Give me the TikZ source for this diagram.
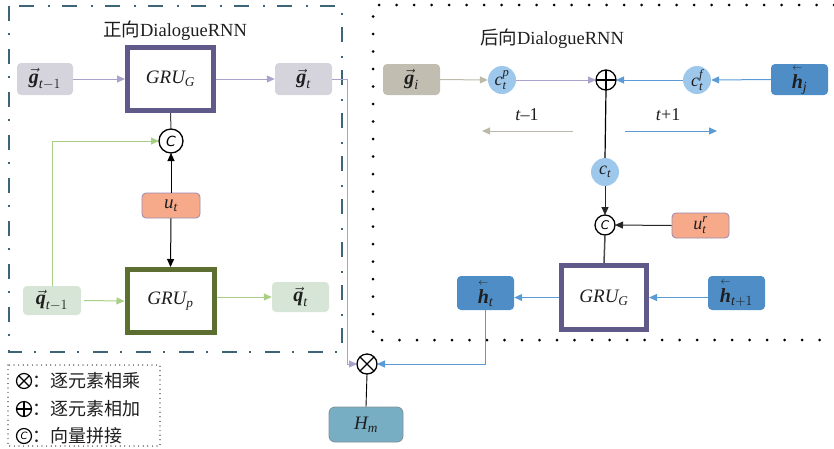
\RequirePackage{fix-cm}
\documentclass[tikz,border=0pt]{standalone}
\usepackage{amsmath}
\usepackage{fontspec}
\setmainfont{Liberation Serif}
\newfontfamily\cjk{Noto Sans CJK SC}
\newfontfamily\dejavu{DejaVu Sans}
\usetikzlibrary{arrows.meta,calc}
\newcommand{\myvec}[1]{\vec{\text{\bfseries\itshape #1}}}
\newcommand{\myla}[1]{\overset{\scriptscriptstyle\leftarrow}{\text{\bfseries\itshape #1}}}
\newcommand{\mi}[1]{\text{\itshape #1}}
\definecolor{gruG}{HTML}{5F5A8A}
\definecolor{gruP}{HTML}{5C6E30}
\definecolor{gfill}{HTML}{D5D4DD}
\definecolor{qfill}{HTML}{D6E5D5}
\definecolor{ufill}{HTML}{F6AA8A}
\definecolor{udraw}{HTML}{9A88B0}
\definecolor{gifill}{HTML}{C1BDB0}
\definecolor{cfill}{HTML}{9DC8EC}
\definecolor{hfill}{HTML}{4F8DC6}
\definecolor{hmfill}{HTML}{78AEC3}
\definecolor{hmdraw}{HTML}{7F8F99}
\definecolor{frameL}{HTML}{3E6478}
\definecolor{arrP}{HTML}{A9A3CB}
\definecolor{arrG}{HTML}{A9CF86}
\definecolor{arrT}{HTML}{BDB9AA}
\definecolor{arrB}{HTML}{5B9BD5}
\definecolor{txt}{HTML}{1E1E1E}
\begin{document}
\begin{tikzpicture}[x=1pt,y=-1pt,
  vbox/.style={rectangle, rounded corners=4pt, inner sep=0pt, text=txt, font=\fontsize{20}{22}\selectfont},
  grubox/.style={rectangle, draw, line width=5pt, fill=white, inner sep=0pt, text=txt, font=\fontsize{19}{21}\selectfont, minimum width=86pt, minimum height=63pt},
  cnode/.style={circle, fill=cfill, inner sep=0pt, minimum size=28pt, text=txt, font=\fontsize{18}{20}\selectfont},
  opnode/.style={circle, draw=black, line width=1.3pt, fill=white, inner sep=0pt, outer sep=0pt},
  arr/.style={-{Triangle[length=8pt,width=7pt]}, line width=1pt},
  cfont/.style={font=\fontsize{14}{14}\dejavu\itshape}
]
\useasboundingbox (0,0) rectangle (834,448);

% frames
\draw[frameL, line width=2.5pt, dash pattern=on 15pt off 12pt on 2pt off 14pt] (9,6) rectangle (342,352);
\draw[black, line width=3pt, line cap=round, dash pattern=on 0pt off 17.5pt] (834,5) -- (373,5) -- (373,340) -- (834,340);
\draw[black, line width=1.2pt, line cap=round, dash pattern=on 0pt off 4.6pt] (8,365) rectangle (160,446);

% titles
\node[text=txt, font=\fontsize{18.5}{20}\selectfont] (titleL) at (175,31) {{\cjk 正向}DialogueRNN};
\node[text=txt, font=\fontsize{18.5}{20}\selectfont] (titleR) at (552,39) {{\cjk 后向}DialogueRNN};

% ---------- left part ----------
\node[vbox, fill=gfill, minimum width=56pt, minimum height=32pt] (gL) at (45,79) {$\myvec{g}_{\mi{t}-1}$};
\node[grubox, draw=gruG] (GRUL) at (170.5,79) {$\mi{GRU}_{\mi{G}}$};
\node[vbox, fill=gfill, minimum width=57pt, minimum height=32pt] (gt) at (303.5,79) {$\myvec{g}_{\mi{t}}$};
\node[opnode, minimum size=24pt, cfont] (C1) at (171,141) {C};
\node[vbox, fill=ufill, draw=udraw, line width=0.8pt, minimum width=58pt, minimum height=25pt, font=\fontsize{19}{21}\selectfont] (ut) at (171,205.5) {$\mi{u}_{\mi{t}}$};
\node[grubox, draw=gruP, minimum width=87pt] (GRUp) at (170.5,301) {$\mi{GRU}_{\mi{p}}$};
\node[vbox, fill=qfill, minimum width=58pt, minimum height=29pt] (q1) at (52,300.5) {$\myvec{q}_{\mi{t}-1}$};
\node[vbox, fill=qfill, minimum width=57pt, minimum height=30pt] (qt) at (300.5,297) {$\myvec{q}_{\mi{t}}$};

\draw[arr, arrP] (gL.east) -- (GRUL.west);
\draw[arr, arrP] (GRUL.east) -- (gt.west);
\draw[line width=1pt, black!75] (GRUL.south) -- (C1.north);
\draw[arr, black] (ut.north) -- (C1.south);
\draw[arr, black] (ut.south) -- (GRUp.north);
\draw[arr, arrG] (q1.north) |- (C1.west);
\draw[arr, arrG] ($(q1.east)+(3,0)$) -- (GRUp.west);
\draw[arr, arrG] (GRUp.east |- qt.west) -- (qt.west);

% ---------- right part ----------
\node[vbox, fill=gifill, minimum width=57pt, minimum height=31pt] (gi) at (411.5,79.5) {$\myvec{g}_{\mi{i}}$};
\node[cnode] (cp) at (502,80) {$\mi{c}_{\mi{t}}^{\mi{p}}$};
\node[opnode, minimum size=20pt] (plus) at (606,80) {};
\draw[line width=1.3pt] (plus.north) -- (plus.south) (plus.west) -- (plus.east);
\node[cnode] (cf) at (697,80) {$\mi{c}_{\mi{t}}^{\mi{f}}$};
\node[vbox, fill=hfill, minimum width=57pt, minimum height=31pt] (hj) at (799.5,79.5) {$\myla{h}_{\mi{j}}$};

\draw[arr, arrT] (gi.east) -- (cp.west);
\draw[arr, arrP] (cp.east) -- (plus.west);
\draw[arr, arrB] (cf.west) -- (plus.east);
\draw[arr, arrB] (hj.west) -- (cf.east);

\node[text=txt, font=\fontsize{18}{20}\selectfont] (tm) at (527,115) {\textit{t}–1};
\node[text=txt, font=\fontsize{18}{20}\selectfont] (tp) at (668,115) {\textit{t}+1};
\coordinate (tmA) at (573,131);
\coordinate (tmB) at (482,131);
\coordinate (tpA) at (625,131);
\coordinate (tpB) at (717,131);
\draw[arr, arrT] (tmA) -- (tmB);
\draw[arr, arrB] (tpA) -- (tpB);

\node[cnode] (ct) at (605,172) {$\mi{c}_{\mi{t}}$};
\node[opnode, minimum size=20pt, font=\fontsize{12}{12}\dejavu\itshape] (C2) at (605,225) {C};
\node[vbox, fill=ufill, draw=udraw, line width=0.8pt, minimum width=57pt, minimum height=25pt, font=\fontsize{18}{20}\selectfont] (urt) at (700.5,225.5) {$\mi{u}_{\mi{t}}^{\mi{r}}$};
\node[grubox, draw=gruG, minimum width=85pt, minimum height=64pt] (GRUR) at (604,297.5) {$\mi{GRU}_{\mi{G}}$};
\node[vbox, fill=hfill, minimum width=57pt, minimum height=34pt] (ht) at (485.5,293) {$\myla{h}_{\mi{t}}$};
\node[vbox, fill=hfill, minimum width=57pt, minimum height=34pt] (ht1) at (736.5,293) {$\myla{h}_{\mi{t}+1}$};

\draw[line width=1.2pt, black] (plus.south) -- (ct.north);
\draw[arr, black!85] (ct.south) -- (C2.north);
\draw[arr, black!85] (urt.west) -- (C2.east);
\draw[line width=1.5pt, black!70] (C2.south) -- (GRUR.north);
\draw[arr, arrB] (GRUR.west) -- (ht.east |- GRUR.west);
\draw[arr, arrB] (ht1.west |- GRUR.east) -- (GRUR.east);

% ---------- merge ----------
\node[opnode, minimum size=20pt] (times) at (367,364) {};
\draw[line width=1.3pt] (times.45) -- (times.225) (times.135) -- (times.-45);
\node[vbox, fill=hmfill, draw=hmdraw, line width=0.8pt, rounded corners=6pt, minimum width=74pt, minimum height=35pt, font=\fontsize{19}{21}\selectfont] (Hm) at (366,424.5) {$\mi{H}_{\mi{m}}$};
\coordinate (gturn) at (347,79);
\draw[arr, arrP] (gt.east) -- (gturn) |- (times.west);
\draw[arr, arrB] (ht.south) |- (times.east);
\draw[line width=0.9pt, black] (times.south) -- (Hm.north);

% ---------- legend ----------
\node[opnode, minimum size=15pt, line width=1.2pt] (lgT) at (24,381) {};
\draw[line width=1.2pt] (lgT.45) -- (lgT.225) (lgT.135) -- (lgT.-45);
\node[opnode, minimum size=15pt, line width=1.2pt] (lgP) at (24,409) {};
\draw[line width=1.2pt] (lgP.north) -- (lgP.south) (lgP.west) -- (lgP.east);
\node[opnode, minimum size=15pt, line width=1.2pt, font=\fontsize{10}{10}\dejavu\itshape] (lgC) at (24,436) {C};
\node[anchor=west, text=txt, font=\fontsize{18}{20}\cjk, inner sep=0pt] (lgT1) at (32,381) {：逐元素相乘};
\node[anchor=west, text=txt, font=\fontsize{18}{20}\cjk, inner sep=0pt] (lgP1) at (32,409) {：逐元素相加};
\node[anchor=west, text=txt, font=\fontsize{18}{20}\cjk, inner sep=0pt] (lgC1) at (32,436) {：向量拼接};
\end{tikzpicture}
\end{document}
